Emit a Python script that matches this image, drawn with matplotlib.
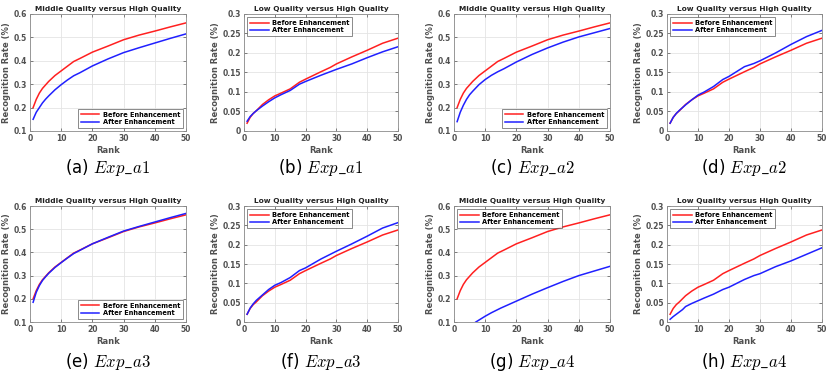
import matplotlib
matplotlib.use('Agg')
import matplotlib.pyplot as plt

plt.rcParams['mathtext.fontset'] = 'cm'
plt.rcParams['font.family'] = 'DejaVu Sans'

rank_mid = [1, 2, 3, 4, 5, 6, 8, 10, 12, 14, 16, 20, 25, 30, 35, 40, 45, 50]
before_mid = [0.20, 0.235, 0.262, 0.282, 0.297, 0.312, 0.337, 0.357, 0.377, 0.397, 0.41, 0.437,
              0.463, 0.49, 0.51, 0.527, 0.545, 0.562]
after_a1 = [0.15, 0.18, 0.20, 0.22, 0.236, 0.25, 0.276, 0.298, 0.318, 0.336, 0.349, 0.378,
            0.408, 0.435, 0.456, 0.476, 0.496, 0.515]
after_a2 = [0.14, 0.18, 0.21, 0.235, 0.255, 0.27, 0.298, 0.32, 0.338, 0.353, 0.366, 0.395,
            0.427, 0.455, 0.48, 0.502, 0.52, 0.538]
after_a3 = [0.185, 0.228, 0.257, 0.279, 0.295, 0.31, 0.335, 0.356, 0.376, 0.395, 0.409, 0.437,
            0.465, 0.492, 0.512, 0.531, 0.55, 0.568]
rank_a4 = [5, 7, 10, 12, 15, 20, 25, 30, 35, 40, 45, 50]
after_a4 = [0.08, 0.10, 0.125, 0.14, 0.16, 0.19, 0.22, 0.248, 0.275, 0.30, 0.32, 0.34]

rank_low = [1, 2, 3, 4, 5, 6, 8, 10, 12, 15, 18, 20, 25, 28, 30, 35, 40, 45, 50]
before_low = [0.02, 0.035, 0.045, 0.052, 0.06, 0.068, 0.08, 0.09, 0.097, 0.108, 0.125, 0.133,
              0.152, 0.163, 0.172, 0.19, 0.207, 0.225, 0.238]
after_b1 = [0.025, 0.037, 0.045, 0.052, 0.058, 0.064, 0.075, 0.085, 0.093, 0.104, 0.12, 0.127,
            0.143, 0.152, 0.158, 0.172, 0.188, 0.203, 0.216]
after_b2 = [0.02, 0.035, 0.045, 0.053, 0.06, 0.067, 0.08, 0.092, 0.10, 0.114, 0.132, 0.14,
            0.165, 0.173, 0.18, 0.2, 0.222, 0.242, 0.258]
after_b3 = [0.02, 0.036, 0.047, 0.056, 0.063, 0.07, 0.084, 0.095, 0.102, 0.115, 0.133, 0.14,
            0.163, 0.175, 0.183, 0.202, 0.222, 0.243, 0.257]
after_b4 = [0.007, 0.014, 0.02, 0.026, 0.032, 0.04, 0.048, 0.055, 0.062, 0.072, 0.084, 0.09,
            0.11, 0.12, 0.125, 0.143, 0.158, 0.175, 0.192]

titles = ['Middle Quality versus High Quality', 'Low Quality versus High Quality']
captions = ['(a) $Exp\\_a1$', '(b) $Exp\\_a1$', '(c) $Exp\\_a2$', '(d) $Exp\\_a2$',
            '(e) $Exp\\_a3$', '(f) $Exp\\_a3$', '(g) $Exp\\_a4$', '(h) $Exp\\_a4$']

panels = [
    (rank_mid, before_mid, rank_mid, after_a1, 0, 'lower right'),
    (rank_low, before_low, rank_low, after_b1, 1, 'upper left'),
    (rank_mid, before_mid, rank_mid, after_a2, 0, 'lower right'),
    (rank_low, before_low, rank_low, after_b2, 1, 'upper left'),
    (rank_mid, before_mid, rank_mid, after_a3, 0, 'lower right'),
    (rank_low, before_low, rank_low, after_b3, 1, 'upper left'),
    (rank_mid, before_mid, rank_a4, after_a4, 0, 'upper left'),
    (rank_low, before_low, rank_low, after_b4, 1, 'upper left'),
]

W, H = 831, 375
fig = plt.figure(figsize=(W / 100, H / 100), dpi=100)

# axes boxes in pixels: (left, right), (top, bottom)
xs = [(30, 186), (244, 398), (454, 610), (667, 822)]
ys = [(14, 131), (206, 322)]

grey = '#505050'
for i, (rb, vb, ra, va, kind, loc) in enumerate(panels):
    x0, x1 = xs[i % 4]
    y0, y1 = ys[i // 4]
    ax = fig.add_axes([x0 / W, 1 - y1 / H, (x1 - x0) / W, (y1 - y0) / H])
    ax.plot(rb, vb, color='#ff2020', lw=1.1, label='Before Enhancement')
    ax.plot(ra, va, color='#2020ff', lw=1.1, label='After Enhancement')
    ax.set_xlim(0, 50)
    ax.set_xticks([0, 10, 20, 30, 40, 50])
    if kind == 0:
        ax.set_ylim(0.1, 0.6)
        ax.set_yticks([0.1, 0.2, 0.3, 0.4, 0.5, 0.6])
        ax.set_yticklabels(['0.1', '0.2', '0.3', '0.4', '0.5', '0.6'])
    else:
        ax.set_ylim(0, 0.3)
        ax.set_yticks([0, 0.05, 0.1, 0.15, 0.2, 0.25, 0.3])
        ax.set_yticklabels(['0', '0.05', '0.1', '0.15', '0.2', '0.25', '0.3'])
    ax.grid(True, color='#e4e4e4', lw=0.6)
    ax.set_axisbelow(True)
    ax.tick_params(direction='in', length=2, width=0.5, labelsize=5.5, colors=grey,
                   top=True, right=True, pad=2)
    for lab in ax.get_xticklabels() + ax.get_yticklabels():
        lab.set_fontweight('bold')
    for s in ax.spines.values():
        s.set_color('#8a8a8a')
        s.set_linewidth(0.6)
    ax.set_title(titles[kind], fontsize=5.3, fontweight='bold', color='#222222', pad=2)
    ax.set_xlabel('Rank', fontsize=6, fontweight='bold', color=grey, labelpad=2)
    ax.set_ylabel('Recognition Rate (%)', fontsize=6, fontweight='bold', color=grey, labelpad=2)
    leg = ax.legend(loc=loc, frameon=True, fancybox=False, handlelength=2.8,
                    borderpad=0.4, labelspacing=0.2, handletextpad=0.5,
                    prop={'size': 4.8, 'weight': 'bold'})
    leg.get_frame().set_edgecolor('#333333')
    leg.get_frame().set_linewidth(0.5)
    cy = 168 if i < 4 else 362
    fig.text((x0 + x1) / 2 / W, 1 - cy / H, captions[i], ha='center', va='center',
             fontsize=12)

fig.savefig('out.png', dpi=100, facecolor='white')
